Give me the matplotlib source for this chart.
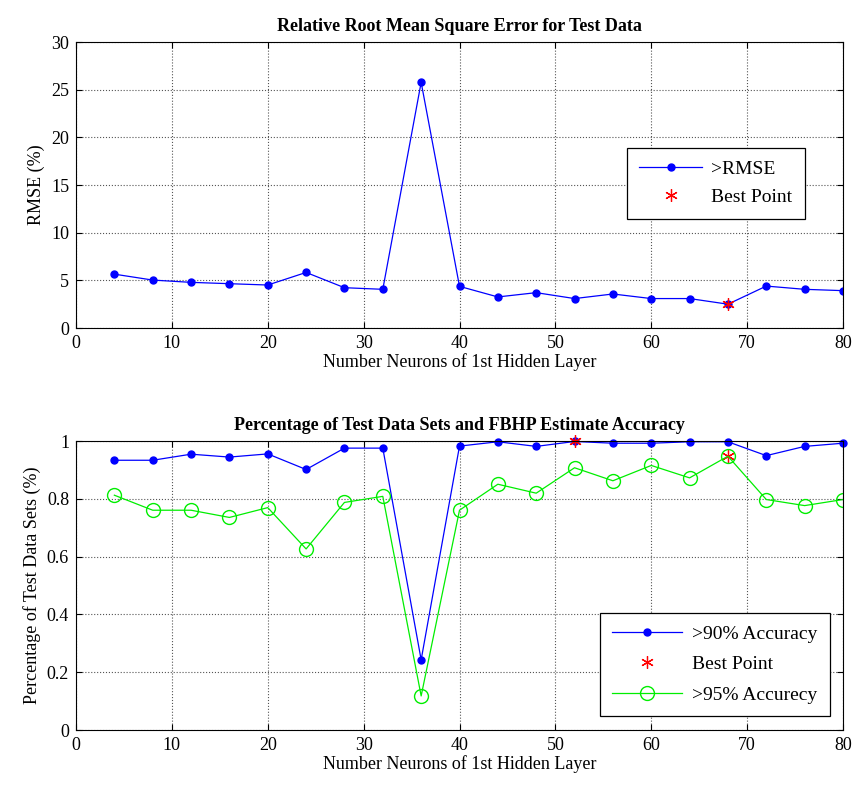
import numpy as np
import matplotlib
matplotlib.use('Agg')
import matplotlib.pyplot as plt

plt.rcParams['font.family'] = ['Liberation Serif', 'DejaVu Serif']

# Data
neurons = [4, 8, 12, 16, 20, 24, 28, 32, 36, 40, 44, 48, 52, 56, 60, 64, 68, 72, 76, 80]
rmse = [5.65, 5.03, 4.79, 4.65, 4.51, 5.83, 4.23, 4.06, 25.77, 4.37,
        3.26, 3.71, 3.09, 3.57, 3.09, 3.09, 2.50, 4.40, 4.06, 3.92]
acc90 = [0.934, 0.934, 0.955, 0.945, 0.956, 0.902, 0.976, 0.976, 0.243, 0.983,
         0.998, 0.982, 0.999, 0.993, 0.993, 0.998, 0.998, 0.950, 0.982, 0.993]
acc95 = [0.813, 0.761, 0.761, 0.736, 0.770, 0.627, 0.788, 0.809, 0.118, 0.761,
         0.851, 0.820, 0.908, 0.863, 0.916, 0.873, 0.948, 0.798, 0.777, 0.798]
best_rmse_x, best_rmse_y = [68], [2.50]
best_acc_x, best_acc_y = [52, 68], [0.999, 0.948]

ASTER = (6, 2, 0)  # matlab-like asterisk

fig = plt.figure(figsize=(8.56, 7.87), dpi=100)
ax1 = fig.add_axes([0.0888, 0.5832, 0.896, 0.3634])
ax2 = fig.add_axes([0.0888, 0.0724, 0.896, 0.367])


def style(ax):
    ax.set_xlim(0, 80)
    ax.set_xticks(np.arange(0, 81, 10))
    ax.grid(True, color='#555555', linestyle=':', linewidth=0.8)
    ax.tick_params(direction='in', labelsize=13, top=True, right=True, length=4, pad=5)
    for s in ax.spines.values():
        s.set_linewidth(0.8)
    ax.set_xlabel('Number Neurons of 1st Hidden Layer', fontsize=13, labelpad=1)


# ── Top: RMSE ───────────────────────────────────────────────
ax1.plot(neurons, rmse, '-', color='blue', lw=0.9, marker='o', ms=5, mfc='blue', mec='blue', label='>RMSE')
ax1.plot(best_rmse_x, best_rmse_y, linestyle='none', marker=ASTER, ms=9, mec='red', mew=0.9,
         label='Best Point', clip_on=False)
ax1.set_ylim(0, 30)
ax1.set_yticks(np.arange(0, 31, 5))
style(ax1)
ax1.set_ylabel('RMSE (%)', fontsize=13)
ax1.set_title('Relative Root Mean Square Error for Test Data', fontsize=13, fontweight='bold', pad=8)
leg1 = ax1.legend(loc='upper left', bbox_to_anchor=(0.7055, 0.665), fontsize=14, fancybox=False,
                  framealpha=1, edgecolor='black', borderpad=0.65, handlelength=3.2,
                  handletextpad=0.5, labelspacing=0.55)
leg1.get_frame().set_linewidth(0.9)

# ── Bottom: accuracy ────────────────────────────────────────
ax2.plot(neurons, acc90, '-', color='blue', lw=0.9, marker='o', ms=5, mfc='blue', mec='blue',
         label='>90% Accuracy', clip_on=False)
ax2.plot(best_acc_x, best_acc_y, linestyle='none', marker=ASTER, ms=9, mec='red', mew=0.9,
         label='Best Point', clip_on=False)
ax2.plot(neurons, acc95, '-', color='#00ee00', lw=0.9, marker='o', ms=10, mfc='none', mec='#00ee00',
         label='>95% Accurecy')
ax2.set_ylim(0, 1)
ax2.set_yticks(np.arange(0, 1.01, 0.2))
ax2.set_yticklabels(['0', '0.2', '0.4', '0.6', '0.8', '1'])
style(ax2)
ax2.set_ylabel('Percentage of Test Data Sets (%)', fontsize=13)
ax2.set_title('Percentage of Test Data Sets and FBHP Estimate Accuracy', fontsize=13, fontweight='bold', pad=8)
leg2 = ax2.legend(loc='lower right', bbox_to_anchor=(0.983, 0.048), borderaxespad=0, fontsize=14,
                  fancybox=False, framealpha=1, edgecolor='black', borderpad=0.65, handlelength=3.6,
                  handletextpad=0.5, labelspacing=0.65)
leg2.get_frame().set_linewidth(0.9)

fig.savefig('out.png', dpi=100)
